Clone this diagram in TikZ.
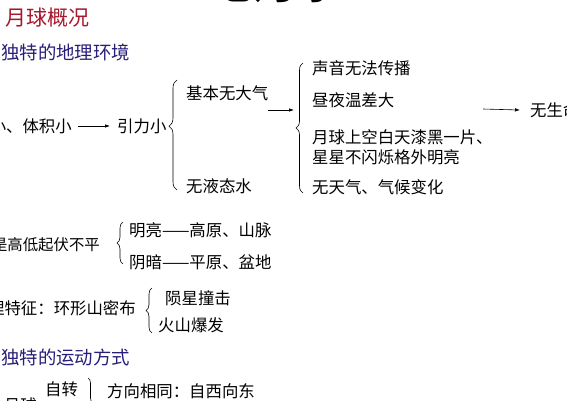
\documentclass[tikz,border=0pt]{standalone}
\usepackage{fontspec}
\setmainfont{Noto Sans CJK SC}
\usetikzlibrary{decorations.pathreplacing,arrows.meta}
\definecolor{titlered}{RGB}{165,25,45}
\definecolor{headblue}{RGB}{40,30,120}
\begin{document}
\begin{tikzpicture}[x=1pt,y=-1pt,
  txt/.style={inner sep=0pt,anchor=west,font=\fontsize{16.4}{16.4}\selectfont},
  txte/.style={txt,anchor=east},
  head/.style={inner sep=0pt,anchor=west,font=\fontsize{18.4}{18.4}\selectfont,text=headblue},
  arr/.style={-{Latex[length=5pt,width=3.5pt]},line width=0.6pt},
  brc/.style={decorate,decoration={brace,amplitude=#1},line width=0.6pt}]
\useasboundingbox (0,0) rectangle (567,400);
\clip (0,0) rectangle (567,400);
\fill[white] (0,0) rectangle (567,400);
% top title (mostly outside)
\node[inner sep=0pt,font=\fontsize{45}{45}\selectfont\bfseries] (title) at (275,-18.5) {地月系};
\node[inner sep=0pt,anchor=west,font=\fontsize{21}{21}\selectfont,text=titlered] (h1) at (5,18) {月球概况};
\node[head] (h2) at (1,52) {独特的地理环境};
% first group
\node[txte] (mass) at (72,126) {质量小、体积小};
\node[txt] (grav) at (117,126) {引力小};
\draw[arr,shorten <=6pt,shorten >=7pt] (mass.east) -- (grav.west);
\coordinate (b1s) at (177,190);
\coordinate (b1e) at (177,80);
\draw[brc=8pt,decoration={aspect=0.58}] (b1s) -- (b1e);
\node[txt] (air) at (186,93) {基本无大气};
\node[txt] (water) at (186,186) {无液态水};
\coordinate (a2s) at (268,110);
\coordinate (a2e) at (294,110);
\draw[arr] (a2s) -- (a2e);
\coordinate (b2s) at (303,193);
\coordinate (b2e) at (303,63);
\draw[brc=7pt,decoration={aspect=0.5}] (b2s) -- (b2e);
\node[txt] (r1) at (312,68) {声音无法传播};
\node[txt] (r2) at (312,100) {昼夜温差大};
\node[txt] (r3) at (312,137) {月球上空白天漆黑一片、};
\node[txt] (r4) at (312,157) {星星不闪烁格外明亮};
\node[txt] (r5) at (312,187) {无天气、气候变化};
\coordinate (a3s) at (483,109);
\node[txt] (life) at (530,110) {无生命};
\draw[arr] (a3s) -- ([xshift=-10pt]life.west);
% second group
\node[txte,font=\fontsize{15.4}{15.4}\selectfont] (relief) at (100,245) {月面是高低起伏不平};
\coordinate (b3s) at (123,264);
\coordinate (b3e) at (123,222);
\draw[brc=6pt] (b3s) -- (b3e);
\node[txt] (bright) at (129,230) {明亮——高原、山脉};
\node[txt] (dark) at (129,262) {阴暗——平原、盆地};
% third group
\node[txte] (crater) at (136,308) {地理特征：环形山密布};
\coordinate (b4s) at (152,333);
\coordinate (b4e) at (152,288);
\draw[brc=6pt] (b4s) -- (b4e);
\node[txt] (meteor) at (165,298) {陨星撞击};
\node[txt] (volcano) at (158,325) {火山爆发};
% motion
\node[head] (h3) at (1,357) {独特的运动方式};
\node[txte] (moon) at (37,405) {月球};
\node[txt] (rot) at (45,389) {自转};
\coordinate (b5s) at (88,378);
\coordinate (b5e) at (88,428);
\draw[brc=5pt] (b5s) -- (b5e);
\node[txt] (dir) at (107,391) {方向相同：自西向东};
\end{tikzpicture}
\end{document}
